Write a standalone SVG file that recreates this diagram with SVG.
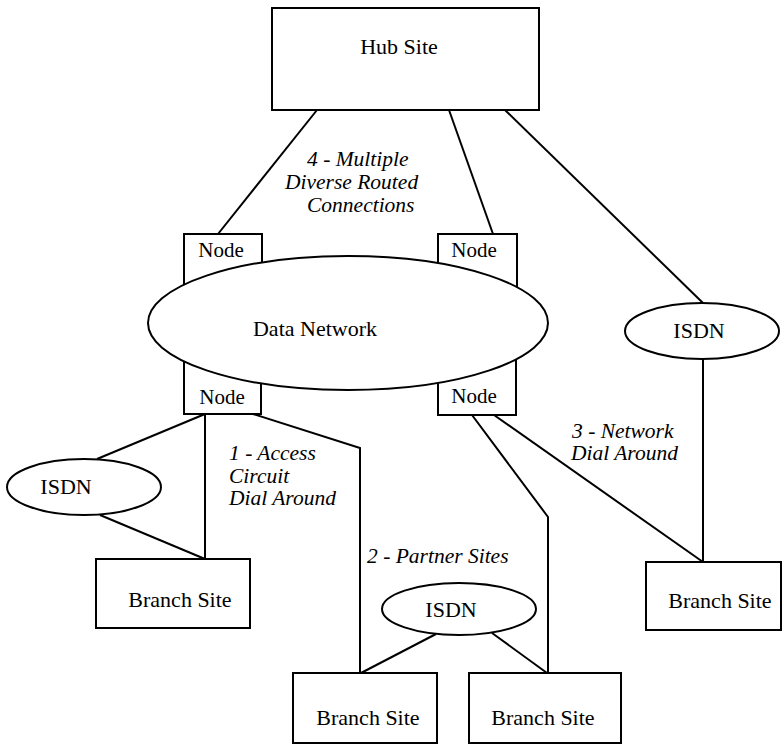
<svg xmlns="http://www.w3.org/2000/svg" width="784" height="745" viewBox="0 0 784 745">
  <style>
    .box { fill: #ffffff; stroke: #000000; stroke-width: 2; }
    .wire { fill: none; stroke: #000000; stroke-width: 2; }
    .lbl { font-family: "Liberation Serif", "Times New Roman", serif; font-size: 22px; fill: #000000; text-anchor: middle; }
    .node { font-size: 21px; }
    .note { font-family: "Liberation Serif", "Times New Roman", serif; font-size: 21.5px; font-style: italic; fill: #000000; }
  </style>
  <rect width="784" height="745" fill="#ffffff"/>

  <!-- connectors -->
  <g id="connectors" class="wire">
    <line x1="317" y1="110" x2="218" y2="234"/>
    <line x1="449" y1="110" x2="493" y2="234"/>
    <line x1="505" y1="110" x2="703" y2="303"/>
    <line x1="703" y1="359" x2="703" y2="562"/>
    <line x1="205" y1="414" x2="97" y2="459"/>
    <line x1="205" y1="414" x2="205" y2="559"/>
    <line x1="100" y1="515" x2="205" y2="559"/>
    <polyline points="253,414 360,448 360,673"/>
    <polyline points="472,415 548,517 548,673"/>
    <line x1="494" y1="415" x2="703" y2="562"/>
    <line x1="436" y1="634" x2="361" y2="673"/>
    <line x1="492" y1="633" x2="547" y2="673"/>
  </g>

  <g id="hub-site">
    <rect class="box" x="272" y="8" width="267" height="102"/>
    <text class="lbl" x="399" y="54">Hub Site</text>
  </g>

  <!-- node boxes sit behind the network cloud -->
  <g id="node-top-left">
    <rect class="box" x="184" y="234" width="78" height="70"/>
    <text class="lbl node" x="221" y="257">Node</text>
  </g>
  <g id="node-top-right">
    <rect class="box" x="438" y="234" width="79" height="70"/>
    <text class="lbl node" x="474" y="257">Node</text>
  </g>
  <g id="node-bottom-left">
    <rect class="box" x="184" y="345" width="77" height="69"/>
    <text class="lbl node" x="222" y="404">Node</text>
  </g>
  <g id="node-bottom-right">
    <rect class="box" x="438" y="345" width="78" height="70"/>
    <text class="lbl node" x="474" y="403">Node</text>
  </g>

  <g id="data-network">
    <ellipse class="box" cx="348" cy="323" rx="200" ry="67"/>
    <text class="lbl" x="315" y="336">Data Network</text>
  </g>

  <g id="isdn-left">
    <ellipse class="box" cx="84" cy="487" rx="77" ry="28"/>
    <text class="lbl" x="66" y="494">ISDN</text>
  </g>
  <g id="isdn-right">
    <ellipse class="box" cx="702" cy="331" rx="77" ry="28"/>
    <text class="lbl" x="699" y="338">ISDN</text>
  </g>
  <g id="isdn-partner">
    <ellipse class="box" cx="459" cy="609" rx="77" ry="26"/>
    <text class="lbl" x="451" y="617">ISDN</text>
  </g>

  <g id="branch-left">
    <rect class="box" x="96" y="559" width="154" height="69"/>
    <text class="lbl" x="180" y="607">Branch Site</text>
  </g>
  <g id="branch-right">
    <rect class="box" x="646" y="562" width="135" height="68"/>
    <text class="lbl" x="720" y="608">Branch Site</text>
  </g>
  <g id="branch-partner-a">
    <rect class="box" x="293" y="673" width="144" height="70"/>
    <text class="lbl" x="368" y="725">Branch Site</text>
  </g>
  <g id="branch-partner-b">
    <rect class="box" x="469" y="673" width="152" height="70"/>
    <text class="lbl" x="543" y="725">Branch Site</text>
  </g>

  <g id="annotations">
    <text class="note" x="307" y="166">4 - Multiple</text>
    <text class="note" x="285" y="189">Diverse Routed</text>
    <text class="note" x="307" y="212">Connections</text>
    <text class="note" x="229" y="460">1 - Access</text>
    <text class="note" x="229" y="483">Circuit</text>
    <text class="note" x="229" y="505">Dial Around</text>
    <text class="note" x="367" y="563">2 - Partner Sites</text>
    <text class="note" x="572" y="438">3 - Network</text>
    <text class="note" x="571" y="460">Dial Around</text>
  </g>
</svg>
